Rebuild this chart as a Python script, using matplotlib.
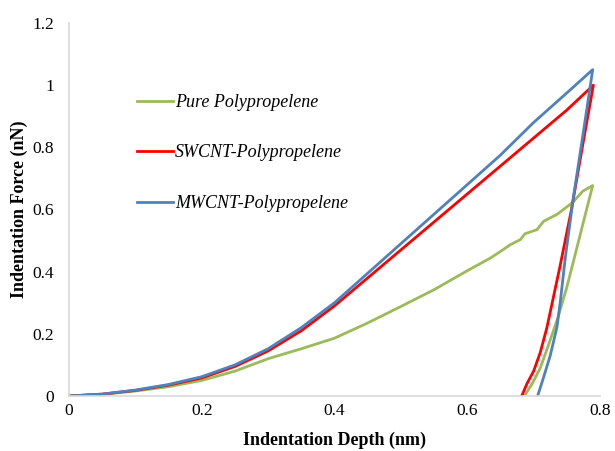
import matplotlib.pyplot as plt

# loading + unloading branches (depth nm, force nN)
pure_x = [0, 0.05, 0.1, 0.15, 0.2, 0.25, 0.3, 0.35, 0.4, 0.45, 0.5, 0.55, 0.6, 0.635, 0.65, 0.665, 0.68,
          0.687, 0.705, 0.715, 0.735, 0.759, 0.774, 0.789,
          0.775, 0.762, 0.75, 0.737, 0.725, 0.71, 0.698, 0.686]
pure_y = [0, 0.005, 0.016, 0.03, 0.05, 0.08, 0.12, 0.152, 0.186, 0.235, 0.288, 0.342, 0.403, 0.444, 0.465, 0.487, 0.503,
          0.522, 0.535, 0.562, 0.584, 0.623, 0.659, 0.677,
          0.56, 0.45, 0.35, 0.255, 0.18, 0.09, 0.04, 0]

sw_x = [0, 0.05, 0.1, 0.15, 0.2, 0.25, 0.3, 0.35, 0.4, 0.45, 0.5, 0.55, 0.6, 0.65, 0.7, 0.75, 0.79,
        0.775, 0.757, 0.74, 0.728, 0.72, 0.71, 0.70, 0.69, 0.682]
sw_y = [0, 0.006, 0.018, 0.035, 0.058, 0.095, 0.145, 0.21, 0.29, 0.38, 0.47, 0.56, 0.65, 0.74, 0.83, 0.92, 1.0,
        0.82, 0.6, 0.42, 0.3, 0.22, 0.14, 0.08, 0.04, 0]

mw_x = [0, 0.05, 0.1, 0.15, 0.2, 0.25, 0.3, 0.35, 0.4, 0.45, 0.5, 0.55, 0.6, 0.65, 0.7, 0.75, 0.789,
        0.775, 0.76, 0.748, 0.74, 0.735, 0.725, 0.715, 0.706]
mw_y = [0, 0.006, 0.019, 0.037, 0.062, 0.1, 0.152, 0.22, 0.30, 0.395, 0.49, 0.585, 0.68, 0.775, 0.88, 0.975, 1.05,
        0.85, 0.64, 0.45, 0.3, 0.22, 0.13, 0.06, 0]

labels = ['Pure Polypropelene', 'SWCNT-Polypropelene', 'MWCNT-Polypropelene']

plt.rcParams['font.family'] = 'Liberation Serif'

fig = plt.figure(figsize=(6.15, 4.51), dpi=100)
ax = fig.add_axes([69/615, 1 - 396/451, 531/615, 373/451])

ax.plot(pure_x, pure_y, color='#9BBB59', lw=2, label=labels[0])
ax.plot(sw_x, sw_y, color='#FF0000', lw=2, label=labels[1])
ax.plot(mw_x, mw_y, color='#4F81BD', lw=2, label=labels[2])

ax.set_xlim(0, 0.8)
ax.set_ylim(0, 1.2)
ax.set_xticks([0, 0.2, 0.4, 0.6, 0.8])
ax.set_xticklabels(['0', '0.2', '0.4', '0.6', '0.8'])
ax.set_yticks([0, 0.2, 0.4, 0.6, 0.8, 1, 1.2])
ax.set_yticklabels(['0', '0.2', '0.4', '0.6', '0.8', '1', '1.2'])
ax.tick_params(length=0, labelsize=12.5)
ax.tick_params(axis='x', pad=5)
ax.tick_params(axis='y', pad=11)

for s in ['top', 'right']:
    ax.spines[s].set_visible(False)
for s in ['left', 'bottom']:
    ax.spines[s].set_color('#D9D9D9')
    ax.spines[s].set_linewidth(1.2)

ax.set_xlabel('Indentation Depth (nm)', fontsize=13, fontweight='bold', labelpad=9)
ax.set_ylabel('Indentation Force (nN)', fontsize=13, fontweight='bold', labelpad=3)

leg = ax.legend(loc='center left', bbox_to_anchor=(137/615, 1 - 153/451),
                bbox_transform=fig.transFigure, frameon=False,
                prop={'style': 'italic', 'size': 13}, handlelength=2.0,
                handletextpad=0.1, labelspacing=1.85, borderpad=0, borderaxespad=0)

fig.savefig('out.png', dpi=100)
